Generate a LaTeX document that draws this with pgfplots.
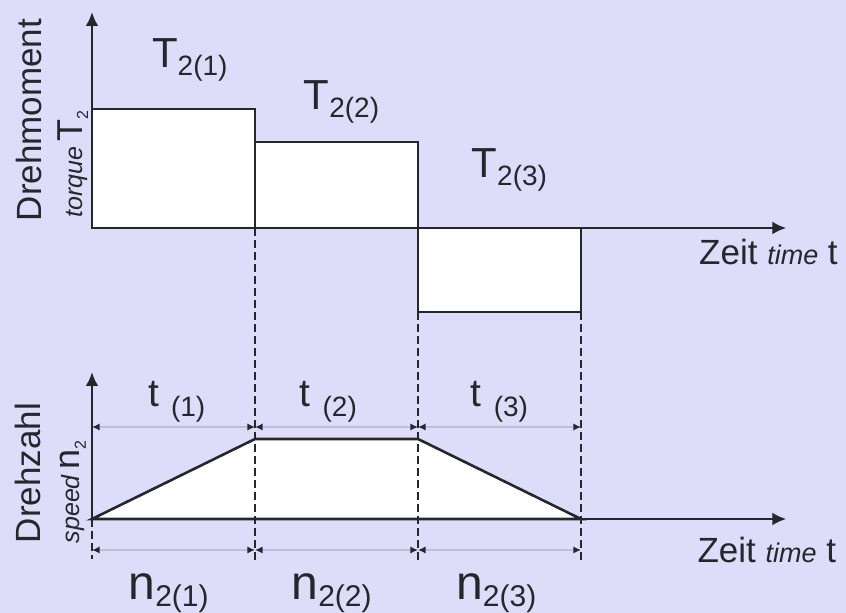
\documentclass[border=0pt]{standalone}
\usepackage{pgfplots}
\pgfplotsset{compat=1.18}
\usepackage{fontspec}
\setmainfont{Liberation Sans}
\usetikzlibrary{arrows.meta}
\definecolor{bg}{RGB}{221,221,249}
\definecolor{ink}{RGB}{38,38,45}
\definecolor{dim}{RGB}{190,190,220}
\newcommand{\fs}[1]{\fontsize{#1}{#1}\selectfont}
\pgfplotsset{
  diag/.style={
    x=81.5pt, y=0.5pt, xmin=0, xmax=4.26, ymin=0,
    axis lines=left, ticks=none, clip=false,
    anchor=south west,
    axis line style={line width=1.4pt, draw=ink},
    every outer x axis line/.append style={-{Latex[length=7pt,width=6.5pt]}},
    every outer y axis line/.append style={-{Latex[length=7pt,width=6.5pt]}},
  },
  dimline/.style={draw=dim, line width=0.9pt,
    {Latex[color=ink,length=3.8pt,width=3.6pt]}-{Latex[color=ink,length=3.8pt,width=3.6pt]}},
  vdash/.style={draw=ink, line width=1.2pt, dash pattern=on 4pt off 2pt},
}
\begin{document}
\begin{tikzpicture}
\fill[bg] (0,0) rectangle (423pt,306.5pt);
\path[use as bounding box] (0,0) rectangle (423pt,306.5pt);
% ---------- torque ----------
\begin{axis}[diag, ymax=216, at={(46pt,192.5pt)}]
  \addplot[ybar interval, fill=white, draw=ink, line width=1.3pt]
    coordinates {(0,119) (1,86) (2,-84) (3,-84)};
  \node[anchor=base, text=ink] at (axis cs:0.60,160) {\fs{21}T\raisebox{-4pt}{\fs{14}2(1)}};
  \node[anchor=base, text=ink] at (axis cs:1.53,118) {\fs{21}T\raisebox{-4pt}{\fs{14}2(2)}};
  \node[anchor=base, text=ink] at (axis cs:2.56,50) {\fs{21}T\raisebox{-4pt}{\fs{14}2(3)}};
  \node[anchor=base, text=ink] at (axis cs:4.15,-37) {\fs{17.5}Zeit {\fs{13.5}\itshape time} t};
  \node[anchor=base, rotate=90, text=ink] at (axis cs:-0.307,108) {\fs{17.5}Drehmoment};
  \node[anchor=base, rotate=90, text=ink] at (axis cs:-0.061,64) {{\fs{12.5}\itshape torque} {\fs{18}T\raisebox{-3pt}{\fs{8}2}}};
\end{axis}
% ---------- speed ----------
\begin{axis}[diag, ymax=147, at={(46pt,47pt)}]
  \addplot[fill=white, draw=ink, line width=1.3pt]
    coordinates {(0,0) (1,80) (2,80) (3,0)} \closedcycle;
  % dashed separators
  \addplot[vdash] coordinates {(0,0) (0,-40)};
  \addplot[vdash] coordinates {(1,291) (1,-43)};
  \addplot[vdash] coordinates {(2,207) (2,-43)};
  \addplot[vdash] coordinates {(3,207) (3,-43)};
  % dimension lines
  \addplot[dimline] coordinates {(0,92) (1,92)};
  \addplot[dimline] coordinates {(1,92) (2,92)};
  \addplot[dimline] coordinates {(2,92) (3,92)};
  \addplot[dimline] coordinates {(0,-31) (1,-31)};
  \addplot[dimline] coordinates {(1,-31) (2,-31)};
  \addplot[dimline] coordinates {(2,-31) (3,-31)};
  \node[anchor=base, text=ink] at (axis cs:0.52,112) {\fs{19.5}t\hspace{6pt}\raisebox{-5pt}{\fs{14}(1)}};
  \node[anchor=base, text=ink] at (axis cs:1.45,112) {\fs{19.5}t\hspace{6pt}\raisebox{-5pt}{\fs{14}(2)}};
  \node[anchor=base, text=ink] at (axis cs:2.50,112) {\fs{19.5}t\hspace{6pt}\raisebox{-5pt}{\fs{14}(3)}};
  \node[anchor=base, text=ink] at (axis cs:0.47,-81) {\fs{24}n\raisebox{-3.5pt}{\fs{15}2(1)}};
  \node[anchor=base, text=ink] at (axis cs:1.47,-81) {\fs{24}n\raisebox{-3.5pt}{\fs{15}2(2)}};
  \node[anchor=base, text=ink] at (axis cs:2.48,-81) {\fs{24}n\raisebox{-3.5pt}{\fs{15}2(3)}};
  \node[anchor=base, text=ink] at (axis cs:4.14,-44) {\fs{17.5}Zeit {\fs{13.5}\itshape time} t};
  \node[anchor=base, rotate=90, text=ink] at (axis cs:-0.319,46) {\fs{17.5}Drehzahl};
  \node[anchor=base, rotate=90, text=ink] at (axis cs:-0.074,27) {{\fs{12.5}\itshape speed} {\fs{18}n\raisebox{-3pt}{\fs{8}2}}};
\end{axis}
\end{tikzpicture}
\end{document}
